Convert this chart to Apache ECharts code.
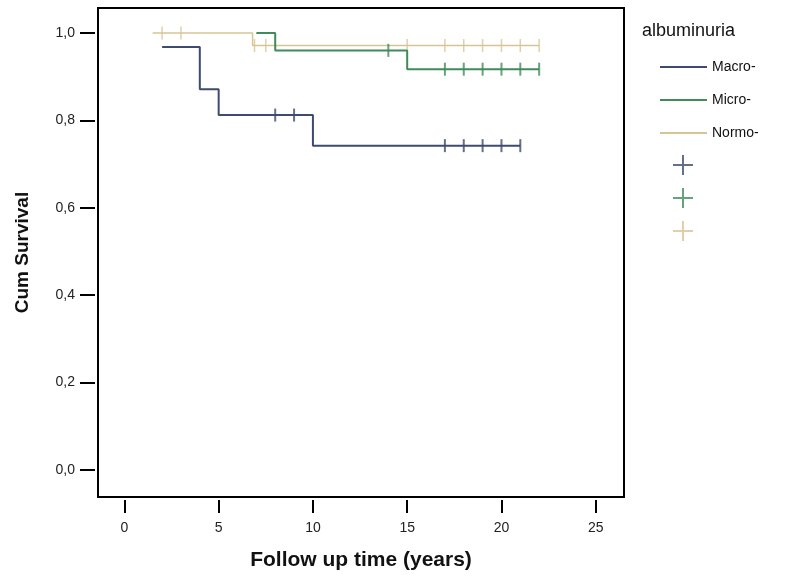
<!DOCTYPE html>
<html>
<head>
<meta charset="utf-8">
<script src="https://cdn.jsdelivr.net/npm/echarts@6/dist/echarts.min.js"></script>
<style>
  html, body { margin: 0; padding: 0; background: #fff; }
  #container { width: 797px; height: 581px; }
</style>
</head>
<body>
<div id="container"></div>
<script>
// groups
var groupNames = ['Macro-', 'Micro-', 'Normo-'];
var groupColors = ['#3d4b6e', '#3f8c58', '#d6c594'];

// step points (time, cum survival)
var macroTimes = [2, 4, 5, 10, 21];
var macroSurv = [0.968, 0.871, 0.812, 0.742, 0.742];
var microTimes = [7, 8, 15, 22];
var microSurv = [1.0, 0.96, 0.917, 0.917];
var normoTimes = [1.5, 6.8, 22];
var normoSurv = [1.0, 0.971, 0.971];

// censored times
var macroCensor = [8, 9, 17, 18, 19, 20, 21];
var microCensor = [14, 17, 18, 19, 20, 21, 22];
var normoCensor = [2, 3, 6.9, 7.5, 15, 17, 18, 19, 20, 21, 22];

var xTicks = [0, 5, 10, 15, 20, 25];
var yTicks = [0, 0.2, 0.4, 0.6, 0.8, 1.0];

initChart();

function pairs(times, surv) {
	var arr = [];
	for (var i = 0; i < times.length; i++) {
		arr.push([times[i], surv[i]]);
	}
	return arr;
}

// survival level of the step curve at time t
function levelAt(times, surv, t) {
	var v = surv[0];
	for (var i = 0; i < times.length; i++) {
		if (times[i] <= t) v = surv[i];
	}
	return v;
}

function censorPoints(times, surv, cens) {
	var arr = [];
	for (var i = 0; i < cens.length; i++) {
		arr.push([cens[i], levelAt(times, surv, cens[i])]);
	}
	return arr;
}

function initChart() {
	var myChart = echarts.init(document.getElementById('container'));
	var curves = [
		pairs(macroTimes, macroSurv),
		pairs(microTimes, microSurv),
		pairs(normoTimes, normoSurv)
	];
	var marks = [
		censorPoints(macroTimes, macroSurv, macroCensor),
		censorPoints(microTimes, microSurv, microCensor),
		censorPoints(normoTimes, normoSurv, normoCensor)
	];
	var widths = [2, 2, 1.5];
	var markNames = [' ', '  ', '   '];

	var series = [];
	for (var i = 0; i < 3; i++) {
		series.push({
			name: groupNames[i],
			type: 'line',
			step: 'end',
			symbol: 'none',
			data: curves[i],
			color: groupColors[i],
			lineStyle: { color: groupColors[i], width: widths[i] },
			z: 3 - i
		});
	}
	for (var j = 0; j < 3; j++) {
		series.push({
			name: markNames[j],
			type: 'scatter',
			symbol: 'rect',
			symbolSize: [widths[j], 13],
			data: marks[j],
			color: groupColors[j],
			itemStyle: { color: groupColors[j] },
			z: 3 - j
		});
	}

	var plus = 'path://M9,0H11V20H9ZM0,9H20V11H0Z';

	var option = {
		backgroundColor: '#fff',
		animation: false,
		textStyle: { fontFamily: 'Liberation Sans, Arial, sans-serif' },
		title: {
			text: 'albuminuria',
			left: 637,
			top: 17,
			textStyle: { fontSize: 18, fontWeight: 'normal', color: '#111' }
		},
		legend: [
			{
				data: groupNames.map(function (n) { return { name: n, icon: 'rect' }; }),
				orient: 'vertical',
				left: 655,
				top: 55,
				itemWidth: 47,
				itemHeight: 2,
				itemGap: 19,
				textStyle: { fontSize: 14, color: '#111' }
			},
			{
				data: markNames.map(function (n) { return { name: n, icon: plus }; }),
				orient: 'vertical',
				left: 668,
				top: 150,
				itemWidth: 20,
				itemHeight: 20,
				itemGap: 13,
				textStyle: { fontSize: 14 }
			}
		],
		grid: {
			left: 98,
			right: 173,
			top: 8,
			bottom: 84,
			show: true,
			borderColor: '#000',
			borderWidth: 2
		},
		xAxis: {
			type: 'value',
			min: -1.4,
			max: 26.5,
			offset: 3,
			name: 'Follow up time (years)',
			nameLocation: 'middle',
			nameGap: 50,
			nameTextStyle: { fontSize: 21, fontWeight: 'bold', color: '#111' },
			axisLine: { show: false, onZero: false },
			splitLine: { show: false },
			axisTick: {
				show: true,
				length: 13,
				customValues: xTicks,
				lineStyle: { color: '#000', width: 2 }
			},
			axisLabel: {
				customValues: xTicks,
				margin: 21,
				fontSize: 14,
				color: '#222'
			}
		},
		yAxis: {
			type: 'value',
			min: -0.062,
			max: 1.057,
			offset: 3,
			name: 'Cum Survival',
			nameLocation: 'middle',
			nameGap: 63,
			nameTextStyle: { fontSize: 19, fontWeight: 'bold', color: '#111' },
			axisLine: { show: false, onZero: false },
			splitLine: { show: false },
			axisTick: {
				show: true,
				length: 15,
				customValues: yTicks,
				lineStyle: { color: '#000', width: 2 }
			},
			axisLabel: {
				customValues: yTicks,
				margin: 20,
				fontSize: 14,
				color: '#222',
				formatter: function (v) {
					return v.toFixed(1).replace('.', ',');
				}
			}
		},
		series: series
	};
	myChart.setOption(option);
}
</script>
</body>
</html>
